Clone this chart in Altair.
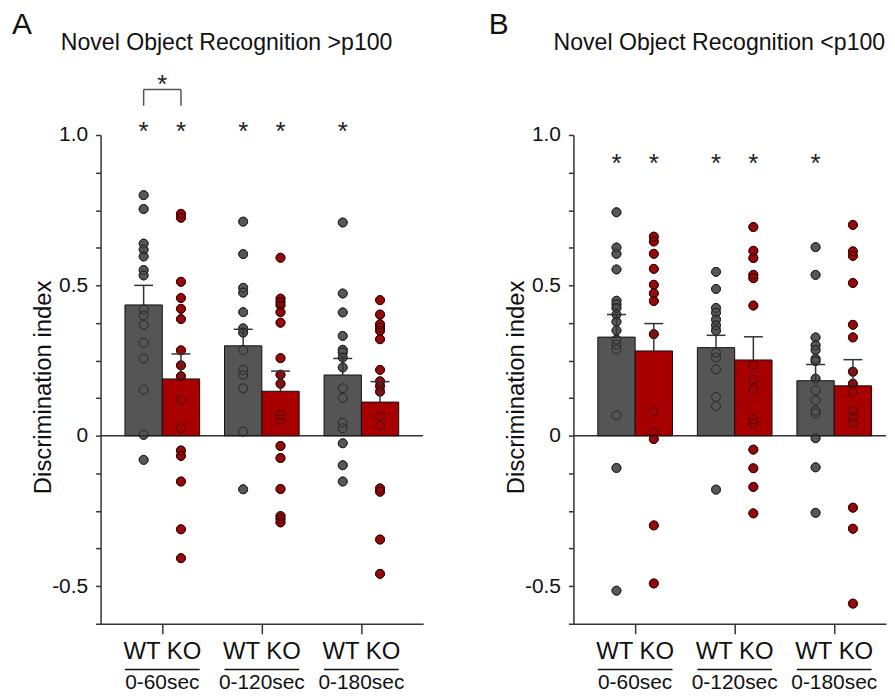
import altair as alt
import pandas as pd

# ---------------- data ----------------
groups = ["0-60sec", "0-120sec", "0-180sec"]
genotypes = ["WT", "KO"]
genotype_label = "WT KO"
panel_letters = ["A", "B"]
panel_titles = ["Novel Object Recognition >p100", "Novel Object Recognition <p100"]
y_title = "Discrimination index"

# Panel A (>p100)
a_wt_mean = [0.435, 0.299, 0.202]
a_wt_sem = [0.065, 0.055, 0.055]
a_ko_mean = [0.189, 0.148, 0.112]
a_ko_sem = [0.083, 0.067, 0.068]
a_wt_points = [
    [0.800, 0.754, 0.639, 0.619, 0.596, 0.551, 0.533, 0.420, 0.400, 0.369, 0.309, 0.257, 0.153, 0.003, -0.080],
    [0.712, 0.604, 0.492, 0.476, 0.411, 0.357, 0.343, 0.285, 0.219, 0.202, 0.158, 0.014, -0.178],
    [0.709, 0.473, 0.410, 0.332, 0.286, 0.277, 0.260, 0.227, 0.158, 0.126, 0.043, 0.025, -0.025, -0.098, -0.152],
]
a_ko_points = [
    [0.738, 0.725, 0.512, 0.458, 0.422, 0.388, 0.284, 0.234, 0.198, 0.119, 0.025, -0.049, -0.067, -0.152, -0.311, -0.407],
    [0.592, 0.456, 0.445, 0.434, 0.411, 0.376, 0.258, 0.203, 0.173, 0.070, 0.054, -0.034, -0.074, -0.177, -0.267, -0.277, -0.288],
    [0.451, 0.403, 0.371, 0.360, 0.349, 0.321, 0.219, 0.181, 0.165, 0.147, 0.065, 0.034, -0.175, -0.186, -0.345, -0.459],
]
a_wt_star = [1, 1, 1]
a_ko_star = [1, 1, 0]
a_bracket = ["0-60sec"]

# Panel B (<p100)
b_wt_mean = [0.328, 0.293, 0.183]
b_wt_sem = [0.075, 0.041, 0.054]
b_ko_mean = [0.282, 0.252, 0.166]
b_ko_sem = [0.091, 0.077, 0.087]
b_wt_points = [
    [0.743, 0.626, 0.605, 0.553, 0.449, 0.437, 0.425, 0.403, 0.379, 0.350, 0.320, 0.303, 0.287, 0.068, -0.107, -0.515],
    [0.545, 0.488, 0.425, 0.409, 0.386, 0.367, 0.350, 0.276, 0.260, 0.221, 0.129, 0.099, -0.179],
    [0.627, 0.535, 0.327, 0.301, 0.285, 0.256, 0.248, 0.190, 0.151, 0.118, 0.083, 0.074, -0.008, -0.105, -0.256],
]
b_ko_points = [
    [0.662, 0.646, 0.605, 0.555, 0.502, 0.473, 0.448, 0.338, 0.081, 0.013, -0.011, -0.298, -0.491],
    [0.694, 0.615, 0.591, 0.535, 0.524, 0.433, 0.235, 0.188, 0.155, 0.055, 0.040, -0.046, -0.108, -0.170, -0.258],
    [0.701, 0.613, 0.598, 0.508, 0.369, 0.327, 0.213, 0.173, 0.146, 0.083, 0.061, 0.042, -0.239, -0.309, -0.558],
]
b_wt_star = [1, 1, 1]
b_ko_star = [1, 1, 0]
b_bracket = []

# ---------------- layout / style constants ----------------
FONT = "Liberation Sans"
H = 491
Y_DOMAIN = [-0.625, 1.0]
X_MIN = -0.62
BAR_W = 0.375
A_STAR_Y, B_STAR_Y = 1.023, 0.918
BR_TOP, BR_LEG, BR_STAR = 1.151, 1.097, 1.180
CAP_HALF = 0.095
STAR_DY = 4

bar_fill = {"WT": "#555555", "KO": "#a80000"}
dot_fill = {"WT": "#575757", "KO": "#950a0a"}
dot_stroke = {"WT": "#262626", "KO": "#420000"}
AXC = "#333333"

yticks = [round(-0.625 + 0.125 * i, 3) for i in range(14)]
label_expr = ("abs(datum.value*2 - round(datum.value*2)) < 0.001 ? "
              "(datum.value == 0 ? '0' : (datum.value < 0 ? '-' + format(-datum.value, '.1f') : format(datum.value, '.1f'))) : ''")


def make_panel(i, wt_mean, wt_sem, ko_mean, ko_sem, wt_pts, ko_pts, wt_star, ko_star,
               star_y, bracket, width, letter_dx, title_dx):
    xs = alt.Scale(domain=[X_MIN, X_MIN + width / 100.0], nice=False, zero=False)
    ys = alt.Scale(domain=Y_DOMAIN, nice=False, zero=False)
    yax = alt.Axis(values=yticks, labelExpr=label_expr, title=y_title, titleFontSize=24,
                   titleFontWeight="normal", titleX=-50, titleY=253, titleAngle=270,
                   titleBaseline="alphabetic", titleAlign="center", titleColor="#111",
                   labelFontSize=21, labelPadding=8, labelColor="#111", tickSize=5,
                   tickWidth=1.5, domainWidth=1.5, tickColor=AXC, domainColor=AXC,
                   grid=False, labelOverlap=False)
    xax = alt.Axis(values=[0, 1, 2], labels=False, title=None, tickSize=10, tickWidth=1.5,
                   domainWidth=1.5, tickColor=AXC, domainColor=AXC, grid=False)

    bars, pts, stars = [], [], []
    for g, name in enumerate(groups):
        for geno, means, sems, pl, st in (("WT", wt_mean, wt_sem, wt_pts, wt_star),
                                           ("KO", ko_mean, ko_sem, ko_pts, ko_star)):
            sign = -1 if geno == "WT" else 1
            xc = g + sign * BAR_W / 2
            x1 = g - BAR_W if geno == "WT" else g
            top = means[g] + sems[g]
            bars.append(dict(group=name, geno=geno, mean=means[g], base=0.0, top=top,
                             xc=xc, x1=x1, x2=x1 + BAR_W,
                             c1=xc - CAP_HALF, c2=xc + CAP_HALF, fc=bar_fill[geno]))
            for v in pl[g]:
                pts.append(dict(geno=geno, x=xc, v=v, fc=dot_fill[geno], sc=dot_stroke[geno]))
            if st[g]:
                stars.append(dict(x=xc, y=star_y, t="*"))
    bars = pd.DataFrame(bars)
    pts = pd.DataFrame(pts)
    stars = pd.DataFrame(stars)

    X = lambda f: alt.X(f, scale=xs, axis=xax)
    Y = lambda f: alt.Y(f, scale=ys, axis=yax)

    layers = []
    layers.append(alt.Chart(pd.DataFrame({"v": [0.0]})).mark_rule(color=AXC, strokeWidth=1.5)
                  .encode(y=Y("v:Q")))
    layers.append(alt.Chart(pts).mark_point(shape="circle", filled=True, size=80, opacity=1,
                                            strokeWidth=1)
                  .encode(x=X("x:Q"), y=Y("v:Q"), fill=alt.Fill("fc:N", scale=None),
                          stroke=alt.Stroke("sc:N", scale=None)))
    layers.append(alt.Chart(bars).mark_bar(stroke="#111111", strokeWidth=1)
                  .encode(x=X("x1:Q"), x2="x2", y=Y("mean:Q"), y2="base",
                          fill=alt.Fill("fc:N", scale=None)))
    layers.append(alt.Chart(pts).mark_point(shape="circle", filled=False, size=80, opacity=1,
                                            strokeWidth=1)
                  .encode(x=X("x:Q"), y=Y("v:Q"), stroke=alt.Stroke("sc:N", scale=None)))
    layers.append(alt.Chart(bars).mark_rule(color=AXC, strokeWidth=1.5)
                  .encode(x=X("xc:Q"), y=Y("mean:Q"), y2="top"))
    layers.append(alt.Chart(bars).mark_rule(color=AXC, strokeWidth=1.5)
                  .encode(x=X("c1:Q"), x2="c2", y=Y("top:Q")))
    layers.append(alt.Chart(stars).mark_text(fontSize=26, baseline="middle", dy=STAR_DY,
                                             color="#222")
                  .encode(x=X("x:Q"), y=Y("y:Q"), text="t:N"))
    if bracket:
        br = []
        for name in bracket:
            g = groups.index(name)
            br.append(dict(xa=g - BAR_W / 2, xb=g + BAR_W / 2, xm=g, top=BR_TOP, leg=BR_LEG,
                           sy=BR_STAR, t="*"))
        br = pd.DataFrame(br)
        layers.append(alt.Chart(br).mark_rule(color="#555555", strokeWidth=1.5)
                      .encode(x=X("xa:Q"), x2="xb", y=Y("top:Q")))
        layers.append(alt.Chart(br).mark_rule(color="#555555", strokeWidth=1.5)
                      .encode(x=X("xa:Q"), y=Y("leg:Q"), y2="top"))
        layers.append(alt.Chart(br).mark_rule(color="#555555", strokeWidth=1.5)
                      .encode(x=X("xb:Q"), y=Y("leg:Q"), y2="top"))
        layers.append(alt.Chart(br).mark_text(fontSize=26, baseline="middle", dy=STAR_DY,
                                              color="#222")
                      .encode(x=X("xm:Q"), y=Y("sy:Q"), text="t:N"))

    lab = pd.DataFrame(dict(g=list(range(len(groups))), name=groups,
                            gl=[genotype_label] * len(groups),
                            u1=[k - BAR_W for k in range(len(groups))],
                            u2=[k + BAR_W for k in range(len(groups))]))
    layers.append(alt.Chart(lab).mark_text(fontSize=24, baseline="middle", color="#111")
                  .encode(x=X("g:Q"), y=alt.value(H + 28), text="gl:N"))
    layers.append(alt.Chart(lab).mark_rule(color="#111", strokeWidth=1.5)
                  .encode(x=X("u1:Q"), x2="u2", y=alt.value(H + 46)))
    layers.append(alt.Chart(lab).mark_text(fontSize=21, baseline="middle", color="#111")
                  .encode(x=X("g:Q"), y=alt.value(H + 60), text="name:N"))

    head = pd.DataFrame(dict(letter=[panel_letters[i]], title=[panel_titles[i]]))
    layers.append(alt.Chart(head).mark_text(fontSize=30, align="left", baseline="alphabetic",
                                            color="#111")
                  .encode(x=alt.value(letter_dx), y=alt.value(-101.5), text="letter:N"))
    layers.append(alt.Chart(head).mark_text(fontSize=23.2, align="left", baseline="alphabetic",
                                            color="#111")
                  .encode(x=alt.value(title_dx), y=alt.value(-85), text="title:N"))

    return alt.layer(*layers).properties(width=width, height=H)


pA = make_panel(0, a_wt_mean, a_wt_sem, a_ko_mean, a_ko_sem, a_wt_points, a_ko_points,
                a_wt_star, a_ko_star, A_STAR_Y, a_bracket, 324, -89, -40)
pB = make_panel(1, b_wt_mean, b_wt_sem, b_ko_mean, b_ko_sem, b_wt_points, b_ko_points,
                b_wt_star, b_ko_star, B_STAR_Y, b_bracket, 314, -85, -20)

chart = (alt.hconcat(pA, pB, spacing=65)
         .properties(padding={"left": 4, "top": 0, "right": 0, "bottom": 0})
         .configure(font=FONT)
         .configure_view(stroke=None))

chart.save("out.html", embed_options={"renderer": "svg", "actions": False})
